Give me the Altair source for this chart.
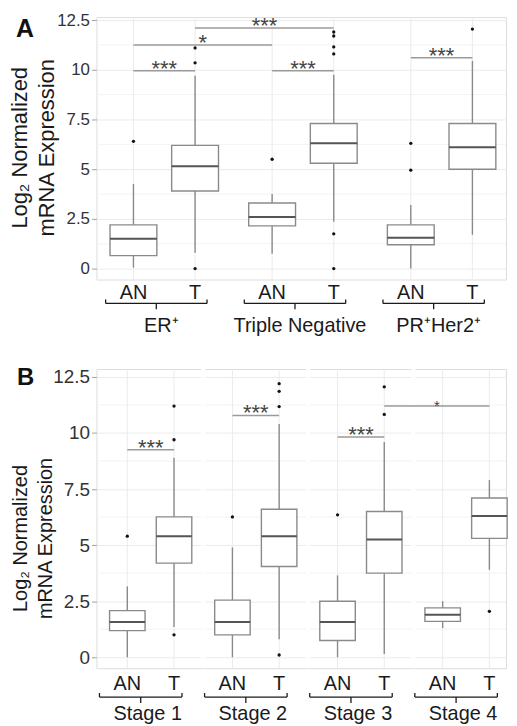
import altair as alt
import pandas as pd

FONT = "Liberation Sans"

# ---------------- Panel A data ----------------
a_groups = ["ER⁺", "Triple Negative", "PR⁺Her2⁺"]
a_tissue = ["AN", "T", "AN", "T", "AN", "T"]
a_pos = [0, 1, 2.25, 3.25, 4.5, 5.5]
a_lo = [0.05, 0.8, 0.75, 2.35, 0.0, 1.7]
a_q1 = [0.65, 3.9, 2.15, 5.3, 1.2, 5.0]
a_med = [1.5, 5.15, 2.6, 6.3, 1.55, 6.1]
a_q3 = [2.2, 6.2, 3.3, 7.3, 2.2, 7.3]
a_hi = [4.25, 9.7, 3.75, 9.75, 3.2, 10.45]
a_out_box = [0, 1, 1, 1, 2, 3, 3, 3, 3, 3, 3, 4, 4, 5]
a_out_val = [6.4, 0.0, 10.35, 11.1, 5.5, 0.0, 1.75, 10.8, 11.15, 11.7, 11.9, 4.95, 6.3, 12.05]
a_sig_from = [0, 0, 1, 2, 4]
a_sig_to = [1, 2, 3, 3, 5]
a_sig_y = [9.95, 11.25, 12.1, 9.95, 10.6]
a_sig_lab = ["***", "*", "***", "***", "***"]

# ---------------- Panel B data ----------------
b_groups = ["Stage 1", "Stage 2", "Stage 3", "Stage 4"]
b_tissue = ["AN", "T", "AN", "T", "AN", "T", "AN", "T"]
b_pos = [0, 1, 2.25, 3.25, 4.5, 5.5, 6.75, 7.75]
b_lo = [0.0, 1.35, 0.0, 0.8, 0.0, 0.15, 1.3, 3.9]
b_q1 = [1.19, 4.2, 1.0, 4.05, 0.75, 3.75, 1.6, 5.3]
b_med = [1.57, 5.4, 1.57, 5.4, 1.57, 5.25, 1.9, 6.3]
b_q3 = [2.08, 6.26, 2.55, 6.6, 2.5, 6.5, 2.2, 7.1]
b_hi = [3.16, 8.9, 4.9, 10.4, 3.65, 9.6, 2.5, 7.9]
b_out_box = [0, 1, 1, 1, 2, 3, 3, 3, 3, 4, 5, 5, 7]
b_out_val = [5.4, 1.0, 9.7, 11.2, 6.26, 0.1, 11.18, 11.86, 12.2, 6.35, 10.83, 12.06, 2.05]
b_sig_from = [0, 2, 4, 5]
b_sig_to = [1, 3, 5, 7]
b_sig_y = [9.25, 10.78, 9.82, 11.2]
b_sig_lab = ["***", "***", "***", "*"]

Y_TICKS = [0, 2.5, 5, 7.5, 10, 12.5]
Y_MINOR = [1.25, 3.75, 6.25, 8.75, 11.25]
TITLE = ["Log₂ Normalized", "mRNA Expression"]

BOX_GRAY = "#8a8a8a"
TXT = "#1a1a1a"


def panel(letter, groups, tissue, pos, lo, q1, med, q3, hi, out_box, out_val,
          sig_from, sig_to, sig_y, sig_lab, xdom, ydom, W, H, lab_fs, title_fs,
          title_lh, title_x, title_y, brk, separators):
    xs = alt.Scale(domain=xdom, nice=False, zero=False)
    ys = alt.Scale(domain=ydom, nice=False, zero=False)
    yaxis = alt.Axis(values=Y_TICKS, labelExpr="datum.value + ''", grid=True, gridColor="#ebebeb",
                     domain=False, tickColor="#a0a0a0", tickSize=5, labelFont=FONT,
                     labelFontSize=lab_fs, labelColor="#333", labelPadding=2,
                     title=TITLE, titleFont=FONT, titleFontSize=title_fs,
                     titleFontWeight="normal", titleColor=TXT, titleLineHeight=title_lh,
                     titleX=title_x, titleY=title_y, titleBaseline="middle", titleAngle=270,
                     titleAlign="center")

    def X(f):
        return alt.X(f, type="quantitative", scale=xs, axis=None)

    def Y(f):
        return alt.Y(f, type="quantitative", scale=ys, axis=yaxis)

    def Y2(f):
        return alt.Y2(f)

    boxes = pd.DataFrame({"pos": pos, "lo": lo, "q1": q1, "med": med, "q3": q3,
                          "hi": hi, "tissue": tissue})
    boxes["xl"] = boxes["pos"] - 0.38
    boxes["xr"] = boxes["pos"] + 0.38
    outs = pd.DataFrame({"pos": [pos[i] for i in out_box], "v": out_val})
    sig = pd.DataFrame({"x1": [pos[i] for i in sig_from], "x2": [pos[i] for i in sig_to],
                        "y": sig_y, "lab": sig_lab})
    sig["mid"] = (sig["x1"] + sig["x2"]) / 2
    sig["fs"] = [22 if l == "***" else (22 if letter == "A" else 15) for l in sig_lab]
    grp = pd.DataFrame({"g": groups, "an": pos[0::2], "t": pos[1::2]})
    grp["mid"] = (grp["an"] + grp["t"]) / 2
    minor = pd.DataFrame({"y": Y_MINOR})
    lett = pd.DataFrame({"t": [letter]})

    layers = []
    layers.append(alt.Chart(minor).mark_rule(color="#f3f3f3", strokeWidth=1).encode(y=Y("y")))
    layers.append(alt.Chart(boxes).mark_rule(color="#ebebeb", strokeWidth=1).encode(x=X("pos")))
    if separators:
        seps = pd.DataFrame({"s": [(pos[2 * i + 1] + pos[2 * i + 2]) / 2 for i in range(len(groups) - 1)]})
        layers.append(alt.Chart(seps).mark_rule(color="white", strokeWidth=4).encode(x=X("s")))
    layers.append(alt.Chart(boxes).mark_rule(color=BOX_GRAY, strokeWidth=1.4).encode(
        x=X("pos"), y=Y("lo"), y2=Y2("q1")))
    layers.append(alt.Chart(boxes).mark_rule(color=BOX_GRAY, strokeWidth=1.4).encode(
        x=X("pos"), y=Y("q3"), y2=Y2("hi")))
    layers.append(alt.Chart(boxes).mark_rect(fill="white", stroke=BOX_GRAY, strokeWidth=1.4).encode(
        x=X("xl"), x2=alt.X2("xr"), y=Y("q1"), y2=Y2("q3")))
    layers.append(alt.Chart(boxes).mark_rule(color="#555555", strokeWidth=2).encode(
        x=X("xl"), x2=alt.X2("xr"), y=Y("med")))
    layers.append(alt.Chart(outs).mark_circle(color="#111111", size=11, opacity=1).encode(
        x=X("pos"), y=Y("v")))
    layers.append(alt.Chart(sig).mark_rule(color="#9a9a9a", strokeWidth=1.5).encode(
        x=X("x1"), x2=alt.X2("x2"), y=Y("y")))
    layers.append(alt.Chart(sig).mark_text(font=FONT, color="#444", baseline="alphabetic", dy=5).encode(
        x=X("mid"), y=Y("y"), text="lab:N", size=alt.Size("fs:Q", scale=None, legend=None)))
    # x tick labels
    layers.append(alt.Chart(boxes).mark_text(font=FONT, fontSize=20, color=TXT, baseline="alphabetic").encode(
        x=X("pos"), y=alt.value(H + brk["lab"]), text="tissue:N"))
    # brackets
    bl, br = brk["left"], brk["right"]
    yb = H + brk["line"]
    layers.append(alt.Chart(grp).mark_rule(color=TXT, strokeWidth=1.3, xOffset=bl, x2Offset=br).encode(
        x=X("an"), x2=alt.X2("t"), y=alt.value(yb)))
    layers.append(alt.Chart(grp).mark_rule(color=TXT, strokeWidth=1.3, xOffset=bl).encode(
        x=X("an"), y=alt.value(yb - 4), y2=alt.value(yb)))
    layers.append(alt.Chart(grp).mark_rule(color=TXT, strokeWidth=1.3, xOffset=br).encode(
        x=X("t"), y=alt.value(yb - 4), y2=alt.value(yb)))
    layers.append(alt.Chart(grp).mark_rule(color=TXT, strokeWidth=1.3, xOffset=(bl + br) / 2).encode(
        x=X("mid"), y=alt.value(yb), y2=alt.value(yb + 6)))
    layers.append(alt.Chart(grp).mark_text(font=FONT, fontSize=20, color=TXT, baseline="alphabetic",
                                          xOffset=-3).encode(
        x=X("mid"), y=alt.value(H + brk["grp"]), text="g:N"))
    # panel letter
    layers.append(alt.Chart(lett).mark_text(font=FONT, fontSize=brk["lfs"], fontWeight="bold", color="#111",
                                           align="left", baseline="alphabetic").encode(
        x=alt.value(brk["lx"]), y=alt.value(brk["ly"]), text="t:N"))
    return alt.layer(*layers).properties(width=W, height=H)


W = 412
HA = 264
HB = 301
chart_a = panel("A", a_groups, a_tissue, a_pos, a_lo, a_q1, a_med, a_q3, a_hi,
                a_out_box, a_out_val, a_sig_from, a_sig_to, a_sig_y, a_sig_lab,
                [-0.6, -0.6 + W / 62], [-0.55, -0.55 + HA / 20], W, HA, 17, 22, 27, -77, HA / 2 - 1,
                {"lab": 20, "line": 24, "grp": 53, "left": -28, "right": 12,
                 "lfs": 25, "lx": -81, "ly": 20}, False)
chart_b = panel("B", b_groups, b_tissue, b_pos, b_lo, b_q1, b_med, b_q3, b_hi,
                b_out_box, b_out_val, b_sig_from, b_sig_to, b_sig_y, b_sig_lab,
                [-0.66, -0.66 + W / 47], [-11 / 22.56, -11 / 22.56 + HB / 22.56], W, HB, 19, 20, 25, -76, 170,
                {"lab": 22, "line": 29, "grp": 52, "left": -28, "right": 8,
                 "lfs": 24, "lx": -80, "ly": 16}, True)

chart = alt.vconcat(chart_a, chart_b, spacing=90, bounds="flush").properties(
    padding={"left": 0, "top": 0, "right": 0, "bottom": 0}
).configure_view(stroke="#cfcfcf", strokeWidth=1).configure(background="white")

chart.save("out.html", embed_options={"renderer": "svg", "actions": False})
